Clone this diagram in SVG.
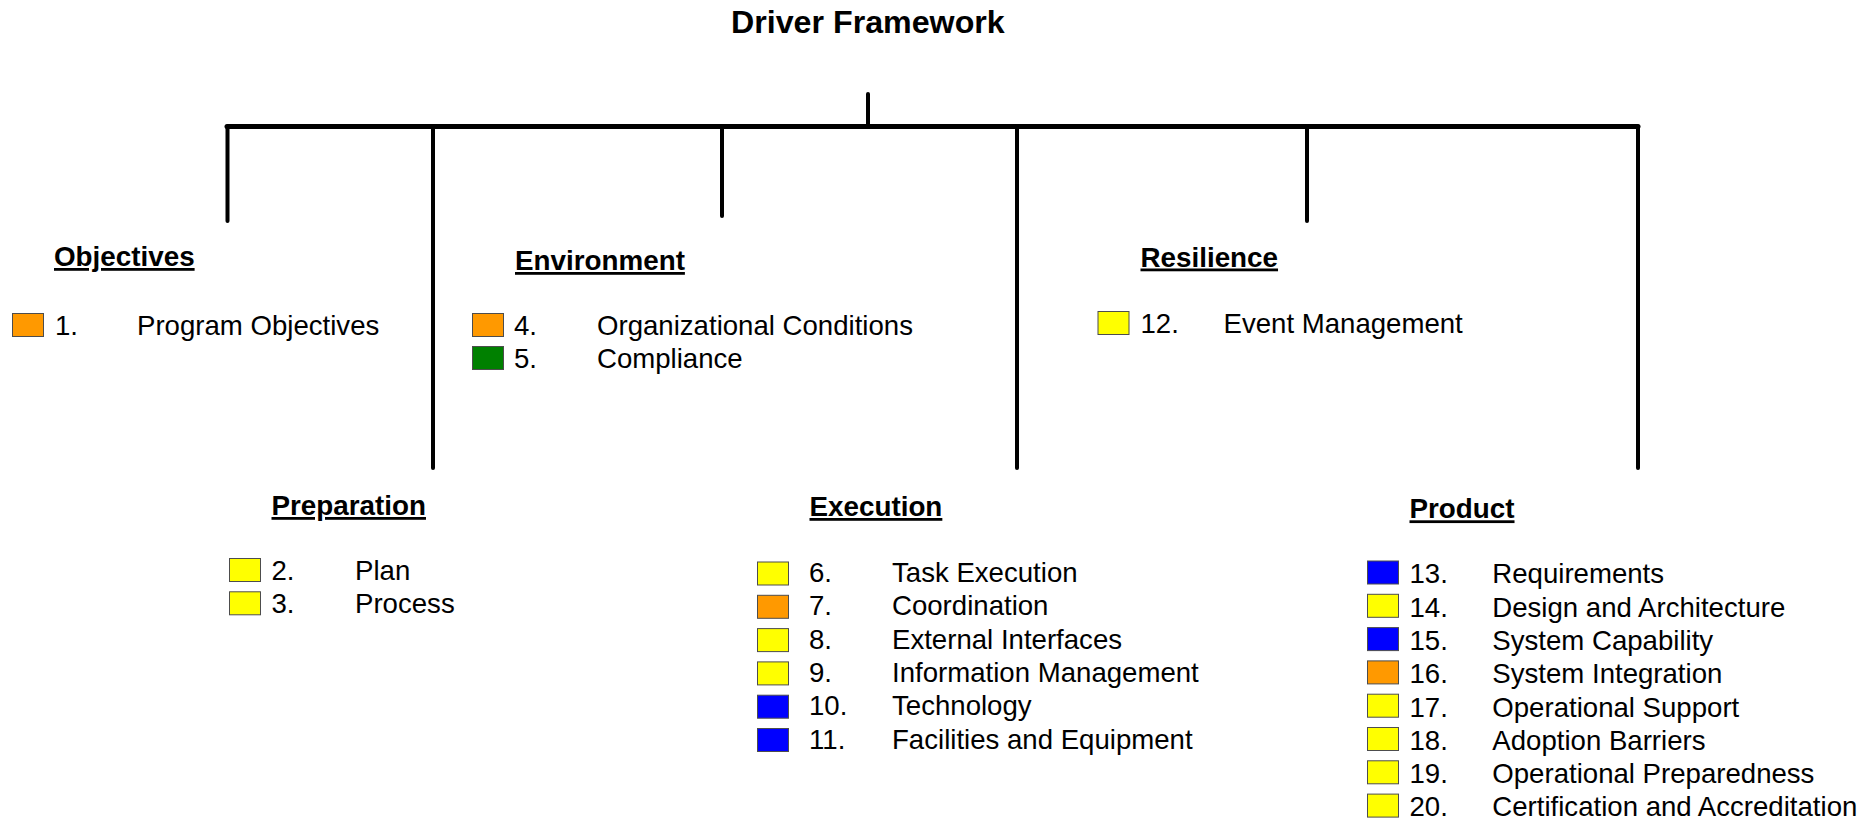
<svg xmlns="http://www.w3.org/2000/svg" width="1870" height="820" viewBox="0 0 1870 820">
<style>
.title{font-family:"Liberation Sans",Arial,sans-serif;font-weight:bold;font-size:32.2px;fill:#000}
.head{font-family:"Liberation Sans",Arial,sans-serif;font-weight:bold;font-size:27.8px;fill:#000;text-decoration:underline}
.item{font-family:"Liberation Sans",Arial,sans-serif;font-size:27.6px;fill:#000}
.sq{stroke:#4d4d4d;stroke-width:1}
.y{fill:#FFFF00}
.o{fill:#FF9900}
.b{fill:#0000FF}
.g{fill:#008000}
.ln{stroke:#000;stroke-width:4;stroke-linecap:round;fill:none}
.bar{stroke:#000;stroke-width:5;stroke-linecap:round;fill:none}
</style>
<rect width="1870" height="820" fill="#fff"/>
<text class="title" x="731" y="33">Driver Framework</text>
<g id="connectors">
<line class="ln" x1="868" y1="94" x2="868" y2="126.5"/>
<line class="bar" x1="227" y1="126.5" x2="1638" y2="126.5"/>
<line class="ln" x1="227.5" y1="126.5" x2="227.5" y2="221"/>
<line class="ln" x1="433" y1="126.5" x2="433" y2="468"/>
<line class="ln" x1="722" y1="126.5" x2="722" y2="216"/>
<line class="ln" x1="1017" y1="126.5" x2="1017" y2="468"/>
<line class="ln" x1="1307" y1="126.5" x2="1307" y2="221"/>
<line class="ln" x1="1638" y1="126.5" x2="1638" y2="468"/>
</g>
<g id="objectives">
<text class="head" x="54" y="266">Objectives</text>
<rect class="sq o" x="12.5" y="313.5" width="31" height="23"/>
<text class="item" x="55" y="335">1.</text><text class="item" x="137" y="335">Program Objectives</text>
</g>
<g id="environment">
<text class="head" x="515" y="270">Environment</text>
<rect class="sq o" x="472.5" y="313.5" width="31" height="23"/>
<text class="item" x="514" y="335">4.</text><text class="item" x="597" y="335">Organizational Conditions</text>
<rect class="sq g" x="472.5" y="346.5" width="31" height="23"/>
<text class="item" x="514" y="368">5.</text><text class="item" x="597" y="368">Compliance</text>
</g>
<g id="resilience">
<text class="head" x="1140.5" y="266.5">Resilience</text>
<rect class="sq y" x="1098" y="311.5" width="31" height="23"/>
<text class="item" x="1140.5" y="333">12.</text><text class="item" x="1223.5" y="333">Event Management</text>
</g>
<g id="preparation">
<text class="head" x="271.5" y="515">Preparation</text>
<rect class="sq y" x="229.5" y="558.5" width="31" height="23"/>
<text class="item" x="271.5" y="580">2.</text><text class="item" x="355" y="580">Plan</text>
<rect class="sq y" x="229.5" y="591.8" width="31" height="23"/>
<text class="item" x="271.5" y="613.3">3.</text><text class="item" x="355" y="613.3">Process</text>
</g>
<g id="execution">
<text class="head" x="809.5" y="516">Execution</text>
<rect class="sq y" x="757.5" y="562" width="31" height="23"/>
<text class="item" x="809" y="582">6.</text><text class="item" x="892" y="582">Task Execution</text>
<rect class="sq o" x="757.5" y="595.3" width="31" height="23"/>
<text class="item" x="809" y="615.3">7.</text><text class="item" x="892" y="615.3">Coordination</text>
<rect class="sq y" x="757.5" y="628.6" width="31" height="23"/>
<text class="item" x="809" y="648.6">8.</text><text class="item" x="892" y="648.6">External Interfaces</text>
<rect class="sq y" x="757.5" y="661.9" width="31" height="23"/>
<text class="item" x="809" y="681.9">9.</text><text class="item" x="892" y="681.9">Information Management</text>
<rect class="sq b" x="757.5" y="695.2" width="31" height="23"/>
<text class="item" x="809" y="715.2">10.</text><text class="item" x="892" y="715.2">Technology</text>
<rect class="sq b" x="757.5" y="728.5" width="31" height="23"/>
<text class="item" x="809" y="748.5">11.</text><text class="item" x="892" y="748.5">Facilities and Equipment</text>
</g>
<g id="product">
<text class="head" x="1409.5" y="518.3">Product</text>
<rect class="sq b" x="1367.5" y="561" width="31" height="23"/>
<text class="item" x="1409.5" y="583.3">13.</text><text class="item" x="1492.3" y="583.3">Requirements</text>
<rect class="sq y" x="1367.5" y="594.3" width="31" height="23"/>
<text class="item" x="1409.5" y="616.6">14.</text><text class="item" x="1492.3" y="616.6">Design and Architecture</text>
<rect class="sq b" x="1367.5" y="627.6" width="31" height="23"/>
<text class="item" x="1409.5" y="649.9">15.</text><text class="item" x="1492.3" y="649.9">System Capability</text>
<rect class="sq o" x="1367.5" y="660.9" width="31" height="23"/>
<text class="item" x="1409.5" y="683.2">16.</text><text class="item" x="1492.3" y="683.2">System Integration</text>
<rect class="sq y" x="1367.5" y="694.2" width="31" height="23"/>
<text class="item" x="1409.5" y="716.5">17.</text><text class="item" x="1492.3" y="716.5">Operational Support</text>
<rect class="sq y" x="1367.5" y="727.5" width="31" height="23"/>
<text class="item" x="1409.5" y="749.8">18.</text><text class="item" x="1492.3" y="749.8">Adoption Barriers</text>
<rect class="sq y" x="1367.5" y="760.8" width="31" height="23"/>
<text class="item" x="1409.5" y="783.1">19.</text><text class="item" x="1492.3" y="783.1">Operational Preparedness</text>
<rect class="sq y" x="1367.5" y="794.1" width="31" height="23"/>
<text class="item" x="1409.5" y="816.4">20.</text><text class="item" x="1492.3" y="816.4">Certification and Accreditation</text>
</g>
</svg>
